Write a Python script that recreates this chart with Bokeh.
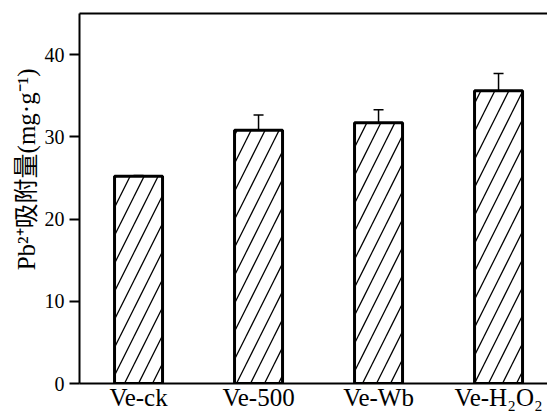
from bokeh.plotting import figure
from bokeh.models import (Range1d, LinearAxis, FixedTicker, Whisker, ColumnDataSource,
                          Title, TeeHead)
from bokeh.embed import file_html
from bokeh.resources import INLINE

categories = ["Ve-ck", "Ve-500", "Ve-Wb", "Ve-H₂O₂"]
adsorption = [25.2, 30.8, 31.7, 35.6]
errors = [0.1, 1.85, 1.6, 2.1]
y_ticks = [0, 10, 20, 30, 40]
y_label = "Pb²⁺吸附量(mg·g⁻¹)"

FONT = "'Liberation Serif', 'Times New Roman', 'Noto Sans CJK SC', serif"

x = [i + 1 for i in range(len(categories))]
src = ColumnDataSource(dict(
    x=x, top=adsorption,
    upper=[v + e for v, e in zip(adsorption, errors)],
    lower=[v - e for v, e in zip(adsorption, errors)],
))

p = figure(width=547, height=413, output_backend="svg", toolbar_location=None,
           x_range=Range1d(0.508, 4.408), y_range=Range1d(0, 45),
           min_border_left=79, min_border_right=0, min_border_top=13, min_border_bottom=29,
           x_axis_location=None, y_axis_location=None)
p.grid.visible = False
p.outline_line_color = None
p.background_fill_color = "white"
p.border_fill_color = "white"

# left axis
yax = LinearAxis(ticker=FixedTicker(ticks=y_ticks))
yax.axis_line_width = 2
yax.axis_line_color = "black"
yax.major_tick_line_width = 2
yax.major_tick_out = 10
yax.major_tick_in = 0
yax.minor_tick_line_color = None
yax.major_label_text_font = FONT
yax.major_label_text_font_size = "20px"
yax.major_label_text_color = "black"
yax.major_label_standoff = 5
p.add_layout(yax, "left")

# bottom axis with category labels
xax = LinearAxis(ticker=FixedTicker(ticks=x))
xax.major_label_overrides = {float(i): c for i, c in zip(x, categories)}
xax.axis_line_width = 2
xax.axis_line_color = "black"
xax.major_tick_out = 0
xax.major_tick_in = 0
xax.major_tick_line_color = None
xax.minor_tick_line_color = None
xax.major_label_text_font = FONT
xax.major_label_text_font_size = "25px"
xax.major_label_text_color = "black"
xax.major_label_standoff = 0
p.add_layout(xax, "below")

# top spine
tax = LinearAxis(ticker=FixedTicker(ticks=[]))
tax.axis_line_width = 2
tax.axis_line_color = "black"
tax.major_tick_out = 0
tax.major_tick_in = 0
tax.minor_tick_line_color = None
p.add_layout(tax, "above")

p.vbar(x="x", top="top", width=0.40, source=src, fill_color="white",
       line_color="black", line_width=3, hatch_pattern="/", hatch_color="black",
       hatch_scale=28, hatch_weight=1.3)

wh = Whisker(source=src, base="x", upper="upper", lower="lower",
             line_color="black", line_width=1.5,
             upper_head=TeeHead(size=10, line_width=1.5, line_color="black"),
             lower_head=TeeHead(size=10, line_width=1.5, line_color="black"))
p.add_layout(wh)

t = Title(text=y_label, align="right", offset=55, standoff=3,
          text_font=FONT, text_font_size="25px", text_font_style="normal",
          text_color="black")
p.add_layout(t, "left")

open("out.html", "w").write(file_html(p, INLINE))
